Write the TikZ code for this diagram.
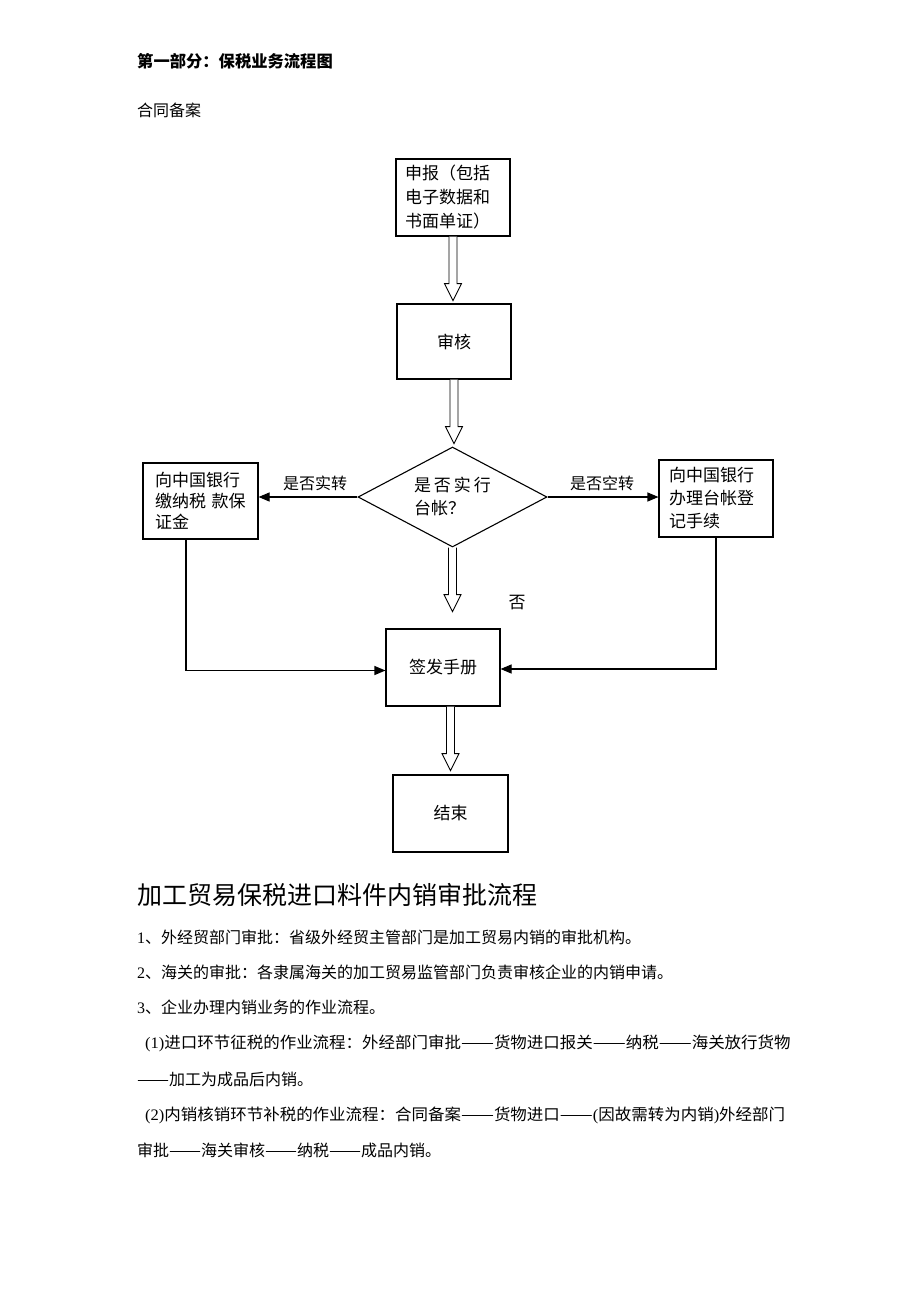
\documentclass[tikz,border=0pt]{standalone}
\usepackage{fontspec}
\setmainfont{Noto Sans CJK SC}
\newfontfamily\lat{Liberation Serif}
\usetikzlibrary{shapes.geometric,arrows.meta,calc}
\newcommand\dd{\resizebox{2em}{\height}{——}}
\newcommand\harrow[1]{%
  \draw[line width=0.9pt,fill=white] let \p1=(#1) in
    (\x1-4pt,\y1) -- (\x1-4pt,\y1-47pt) -- (\x1-8.5pt,\y1-47pt) -- (\x1,\y1-64pt)
    -- (\x1+8.5pt,\y1-47pt) -- (\x1+4pt,\y1-47pt) -- (\x1+4pt,\y1);}
\begin{document}
\begin{tikzpicture}[x=1pt,y=-1pt,
  box/.style={draw,line width=1.1pt,minimum width=114pt,minimum height=77pt,
    inner ysep=0pt,font=\fontsize{17}{23}\selectfont},
  lbox/.style={box,align=left,inner xsep=10pt,text width=94pt},
  cbox/.style={box,align=center},
  lab/.style={inner sep=0pt,font=\fontsize{16}{16}\selectfont},
  body/.style={anchor=west,inner sep=0pt,font=\fontsize{16}{16}\selectfont},
  conn/.style={line width=1.1pt,-{Triangle[length=11pt,width=9pt]}}]
\useasboundingbox (0,0) rectangle (920,1302);
\fill[white] (0,0) rectangle (920,1302);

% header
\node[body,font=\fontsize{16.3}{16}\selectfont\bfseries] (title) at (137,61) {第一部分：保税业务流程图};
\node[body] (sub) at (137,110) {合同备案};

% flowchart
\node[lbox,inner xsep=9pt,text width=96pt,font=\fontsize{17}{24}\selectfont] (decl) at (453,197.5) {申报（包括\\电子数据和\\书面单证）};
\node[cbox,minimum height=75pt] (audit) at (454,341.5) {审核};
\node[draw,diamond,line width=1.1pt,minimum width=189pt,minimum height=100pt,aspect=1.89,
  inner sep=0pt,align=left,font=\fontsize{17}{23}\selectfont] (dia) at (452.5,497)
  {是\hspace{3pt}否\hspace{3pt}实\hspace{3pt}行\\台帐？};
\node[lbox,minimum width=115pt,minimum height=76pt,inner xsep=12pt,text width=91pt,font=\fontsize{17}{21}\selectfont] (left) at (200.5,501) {向中国银行\\缴纳税 款保\\证金};
\node[lbox] (right) at (716,498.5) {向中国银行\\办理台帐登\\记手续};
\node[cbox] (sign) at (443,667.5) {签发手册};
\node[cbox,minimum width=115pt] (fin) at (450.5,813.5) {结束};

\harrow{decl.south}
\harrow{audit.south}
\harrow{dia.south}
\harrow{sign.south -| fin.north}

\draw[conn] (dia.west) -- (dia.west -| left.east);
\draw[conn] (dia.east) -- (dia.east -| right.west);
\node[lab] (l1) at (315,483) {是否实转};
\node[lab] (l2) at (602,483) {是否空转};
\node[lab,font=\fontsize{17}{17}\selectfont] (no) at (517,603) {否};

\draw[conn] ([xshift=-14.5pt]left.south) |- ([yshift=-3pt]sign.west);
\draw[conn] (right.south) |- ([yshift=-1.5pt]sign.east);

% text
\node[body,font=\fontsize{25}{25}\selectfont] (head) at (137,895) {加工贸易保税进口料件内销审批流程};
\node[body] (t1) at (137,937) {{\lat 1}、外经贸部门审批：省级外经贸主管部门是加工贸易内销的审批机构。};
\node[body] (t2) at (137,972) {{\lat 2}、海关的审批：各隶属海关的加工贸易监管部门负责审核企业的内销申请。};
\node[body] (t3) at (137,1007) {{\lat 3}、企业办理内销业务的作业流程。};
\node[body] (t4) at (145,1043) {\scalebox{1.03}[1]{{\lat (1)}进口环节征税的作业流程：外经部门审批\dd 货物进口报关\dd 纳税\dd 海关放行货物}};
\node[body] (t5) at (137,1079) {\dd 加工为成品后内销。};
\node[body] (t6) at (145,1115) {\scalebox{1.03}[1]{{\lat (2)}内销核销环节补税的作业流程：合同备案\dd 货物进口\dd{\lat (}因故需转为内销{\lat )}外经部门}};
\node[body] (t7) at (137,1150) {审批\dd 海关审核\dd 纳税\dd 成品内销。};
\end{tikzpicture}
\end{document}
